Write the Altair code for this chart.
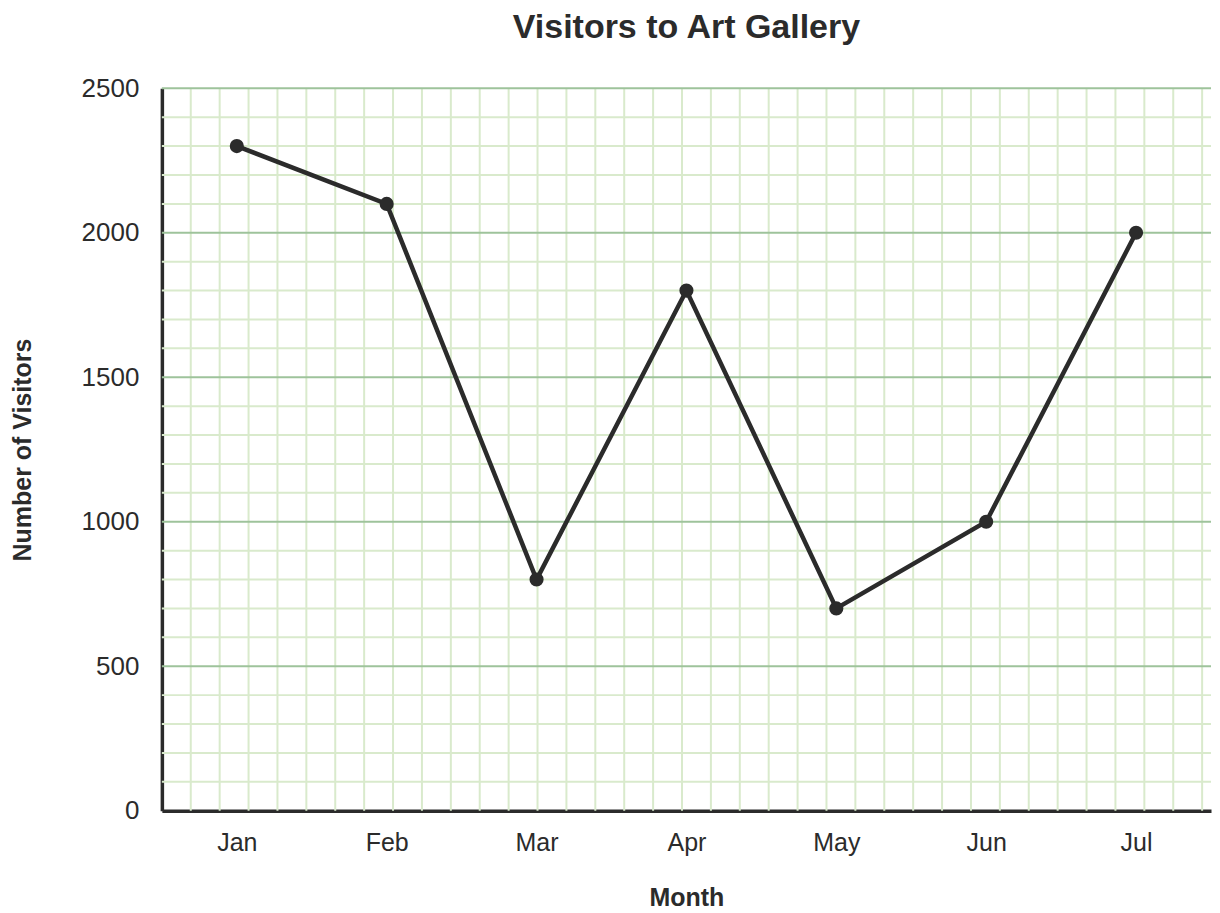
import altair as alt
import pandas as pd

months = ["Jan", "Feb", "Mar", "Apr", "May", "Jun", "Jul"]
visitors = [2300, 2100, 800, 1800, 700, 1000, 2000]

y_major = [500, 1000, 1500, 2000, 2500]
y_minor = [v for v in range(100, 2500, 100) if v % 500 != 0]
y_ticks = [0, 500, 1000, 1500, 2000, 2500]

W, H = 1050, 723
cell_units = 2500 * W / H / 100  # vertical grid spacing matches horizontal 100-unit cells
x_grid = list(range(1, int(cell_units) + 1))

FONT = "Liberation Sans"
DARK = "#2b2b2b"
MAJOR = "#9ec39b"
MINOR = "#d9eacc"

df = pd.DataFrame({"month": months, "visitors": visitors})
ydom = alt.Scale(domain=[0, 2500], nice=False, zero=True)

vgrid = alt.Chart(pd.DataFrame({"g": x_grid})).mark_rule(color=MINOR, strokeWidth=2).encode(
    x=alt.X("g:Q", scale=alt.Scale(domain=[0, cell_units], nice=False, zero=True), axis=None)
)

yaxis = alt.Axis(values=y_ticks, format="d", title="Number of Visitors")

hminor = alt.Chart(pd.DataFrame({"v": y_minor})).mark_rule(color=MINOR, strokeWidth=2).encode(
    y=alt.Y("v:Q", scale=ydom, axis=yaxis)
)
hmajor = alt.Chart(pd.DataFrame({"v": y_major})).mark_rule(color=MAJOR, strokeWidth=2).encode(
    y=alt.Y("v:Q", scale=ydom, axis=yaxis)
)

xenc = alt.X(
    "month:N",
    sort=months,
    scale=alt.Scale(type="point", padding=0.5),
    axis=alt.Axis(title="Month", labelAngle=0, orient="bottom"),
)
yenc = alt.Y("visitors:Q", scale=ydom, axis=yaxis)

line = alt.Chart(df).mark_line(color=DARK, strokeWidth=4.5).encode(x=xenc, y=yenc)
pts = alt.Chart(df).mark_circle(color=DARK, size=200, opacity=1).encode(x=xenc, y=yenc)

chart = (
    alt.layer(vgrid, hminor, hmajor, alt.layer(line, pts))
    .resolve_scale(x="independent")
    .properties(
        width=W, height=H,
        title=alt.TitleParams("Visitors to Art Gallery", font=FONT, fontSize=34, fontWeight="bold",
                              color=DARK, offset=30),
        padding={"left": 2, "top": 3, "right": 0, "bottom": 0},
    )
    .configure_view(stroke=None)
    .configure_axis(
        ticks=False, grid=False, domainColor=DARK, domainWidth=3.5,
        labelFont=FONT, labelColor=DARK,
        titleFont=FONT, titleFontSize=25, titleFontWeight="bold", titleColor=DARK,
    )
    .configure_axisX(labelFontSize=25, labelPadding=20, titlePadding=30)
    .configure_axisY(labelFontSize=26, labelPadding=23, titlePadding=46)
)

chart.save("out.html", embed_options={"renderer": "svg", "actions": False})
